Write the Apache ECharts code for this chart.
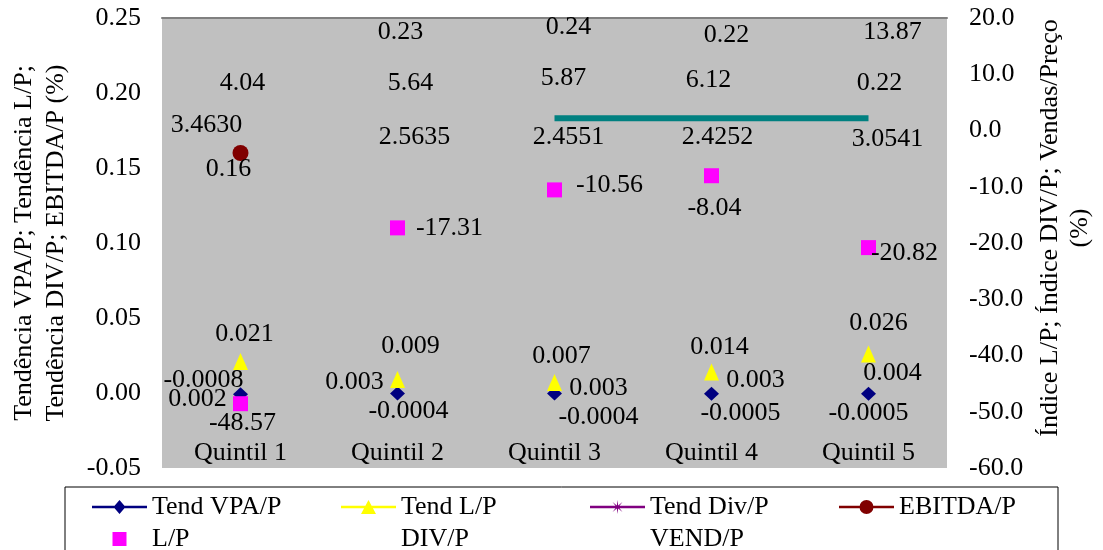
<!DOCTYPE html>
<html><head><meta charset="utf-8">
<script src="https://cdn.jsdelivr.net/npm/echarts@6/dist/echarts.min.js"></script>
<style>html,body{margin:0;padding:0;background:#fff}#c{width:1103px;height:550px}</style>
</head><body><div id="c"></div>
<script>
// ---- data ----
const categories = ['Quintil 1', 'Quintil 2', 'Quintil 3', 'Quintil 4', 'Quintil 5'];
const tendVpaP = [-0.0008, -0.0004, -0.0004, -0.0005, -0.0005];
const tendLP   = [0.021, 0.009, 0.007, 0.014, 0.026];
const tendDivP = [0.002, 0.003, 0.003, 0.003, 0.004];
const ebitdaP  = [0.16, 0.23, 0.24, 0.22, 0.22];
const lP       = [-48.57, -17.31, -10.56, -8.04, -20.82];
const divP     = [4.04, 5.64, 5.87, 6.12, 13.87];
const vendP    = [3.4630, 2.5635, 2.4551, 2.4252, 3.0541];
const tealLine = [null, null, 2.2, 2.2, 2.2];
const leftAxisTicks = { min: -0.05, max: 0.25, step: 0.05 };
const rightAxisTicks = { min: -60, max: 20, step: 10 };

// ---- styling / layout ----
const FONT = 'Liberation Serif, Times New Roman, serif';
const FS = 26;
const offsets = {
  vpa:    [[-37, -14], [11, 18], [44, 24], [29, 19], [0, 19]],
  tendLP: [[4, -27], [13, -33], [7, -26], [8, -25], [10, -31]],
  tendDiv:[[-43, 9], [-43, -6], [44, 0], [44, -8], [24, -14]],
  ebitda: [[-12, 16], [3, -16], [14, -6], [15, -28], [11, 20]],
  lP:     [[2, 19], [52, 0], [55, -5], [3, 32], [36, 6]],
  divP:   [[2, -25], [13, -16], [9, -19], [-3, -16], [24, -20]],
  vendP:  [[-34, 14], [17, 21], [14, 20], [6, 20], [19, 26]]
};
const STAR = 'path://M10,0L2.31,0.96L7.07,7.07L0.96,2.31L0,10L-0.96,2.31L-7.07,7.07L-2.31,0.96L-10,0L-2.31,-0.96L-7.07,-7.07L-0.96,-2.31L0,-10L0.96,-2.31L7.07,-7.07L2.31,-0.96Z';

// legend icons: line + marker, drawn in a 55 x 14 box
const LINE = 'M0,5.8L55,5.8L55,8.2L0,8.2Z';
const ICON_VPA = 'path://' + LINE + 'M27.5,0L33.5,7L27.5,14L21.5,7Z';
const ICON_TLP = 'path://' + LINE + 'M27.5,0L35,14L20,14Z';
const ICON_TDIV = 'path://' + LINE + 'M34.5,7L29.12,7.67L32.45,11.95L28.17,8.62L27.5,14L26.83,8.62L22.55,11.95L25.88,7.67L20.5,7L25.88,6.33L22.55,2.05L26.83,5.38L27.5,0L28.17,5.38L32.45,2.05L29.12,6.33Z';
const ICON_EBITDA = 'path://' + LINE + 'M20.5,7A7,7 0 1,1 34.5,7A7,7 0 1,1 20.5,7Z';
const ICON_LP = 'path://M0,0L14,0L14,14L0,14Z';

function mk(name, values, yIdx, color, symbol, sizes, offs, decimals) {
  return {
    name, type: 'line', yAxisIndex: yIdx, symbol, color,
    symbolSize: 14,
    itemStyle: { color },
    lineStyle: { opacity: 0, width: 2, color },
    animation: false, silent: true,
    emphasis: { disabled: true },
    data: values.map((v, i) => ({
      value: v,
      symbolSize: sizes[i],
      label: {
        show: true, position: 'inside', offset: offs[i],
        formatter: () => v.toFixed(decimals),
        fontFamily: FONT, fontSize: FS, color: '#000'
      }
    }))
  };
}

const series = [
  mk('Tend VPA/P', tendVpaP, 0, '#000080', 'diamond', Array(5).fill([15, 14]), offsets.vpa, 4),
  mk('Tend L/P', tendLP, 0, '#FFFF00', 'triangle', Array(5).fill([15, 17]), offsets.tendLP, 3),
  mk('Tend Div/P', tendDivP, 0, '#800080', STAR, Array(5).fill(0), offsets.tendDiv, 3),
  mk('EBITDA/P', ebitdaP, 0, '#800000', 'circle', [16, 0, 0, 0, 0], offsets.ebitda, 2),
  mk('L/P', lP, 1, '#FF00FF', 'rect', Array(5).fill(15), offsets.lP, 2),
  mk('DIV/P', divP, 1, '#000000', 'circle', Array(5).fill(0), offsets.divP, 2),
  mk('VEND/P', vendP, 1, '#000000', 'circle', Array(5).fill(0), offsets.vendP, 4),
  {
    name: 'teal', type: 'line', yAxisIndex: 1, data: tealLine, symbol: 'none',
    lineStyle: { color: '#008080', width: 6 }, animation: false, silent: true
  }
];

const option = {
  backgroundColor: '#ffffff',
  grid: { left: 161, right: 148, top: 18, bottom: 82, show: true, backgroundColor: '#C0C0C0', borderWidth: 0 },
  xAxis: [
    { type: 'category', data: categories, position: 'bottom',
      axisLine: { show: false }, axisTick: { show: false }, splitLine: { show: false },
      axisLabel: { inside: true, margin: 2, fontFamily: FONT, fontSize: FS, color: '#000' } },
    { type: 'category', data: categories, position: 'top',
      axisLine: { show: true, onZero: false, lineStyle: { color: '#808080', width: 2 } },
      axisTick: { show: false }, axisLabel: { show: false }, splitLine: { show: false } }
  ],
  yAxis: [
    { type: 'value', position: 'left', min: leftAxisTicks.min, max: leftAxisTicks.max, interval: leftAxisTicks.step,
      axisLine: { show: false }, axisTick: { show: false }, splitLine: { show: false },
      axisLabel: { margin: 21, formatter: v => v.toFixed(2), fontFamily: FONT, fontSize: FS, color: '#000' },
      name: 'Tendência VPA/P; Tendência L/P;\nTendência DIV/P; EBITDA/P (%)',
      nameLocation: 'middle', nameRotate: 90, nameGap: 90,
      nameTextStyle: { fontFamily: FONT, fontSize: FS, color: '#000', lineHeight: 32 } },
    { type: 'value', position: 'right', min: rightAxisTicks.min, max: rightAxisTicks.max, interval: rightAxisTicks.step,
      axisLine: { show: false }, axisTick: { show: false }, splitLine: { show: false },
      axisLabel: { margin: 22, formatter: v => v.toFixed(1), fontFamily: FONT, fontSize: FS, color: '#000' },
      name: 'Índice L/P; Índice DIV/P; Vendas/Preço\n(%)',
      nameLocation: 'middle', nameRotate: 90, nameGap: 88,
      nameTextStyle: { fontFamily: FONT, fontSize: FS, color: '#000', lineHeight: 30, padding: [0, 0, 0, 30] } }
  ],
  legend: {
    left: 65, top: 487, width: 1020, orient: 'horizontal',
    padding: [7, 29, 12, 27], itemGap: 6, itemWidth: 55, itemHeight: 14,
    borderColor: '#000', borderWidth: 1, backgroundColor: '#fff',
    selectedMode: false, symbolKeepAspect: true,
    formatter: n => (n === 'EBITDA/P' ? '{s|' + n + '}' : '{w|' + n + '}'),
    textStyle: {
      fontFamily: FONT, fontSize: FS, color: '#000', lineHeight: 21,
      rich: {
        w: { width: 183, fontFamily: FONT, fontSize: FS, color: '#000', lineHeight: 21 },
        s: { width: 130, fontFamily: FONT, fontSize: FS, color: '#000', lineHeight: 21 }
      }
    },
    data: [
      { name: 'Tend VPA/P', icon: ICON_VPA },
      { name: 'Tend L/P', icon: ICON_TLP },
      { name: 'Tend Div/P', icon: ICON_TDIV },
      { name: 'EBITDA/P', icon: ICON_EBITDA },
      { name: 'L/P', icon: ICON_LP },
      { name: 'DIV/P', icon: 'none' },
      { name: 'VEND/P', icon: 'none' }
    ]
  },
  series
};
const chart = echarts.init(document.getElementById('c'), null, { renderer: 'canvas' });
chart.setOption(option);
</script>
</body></html>
